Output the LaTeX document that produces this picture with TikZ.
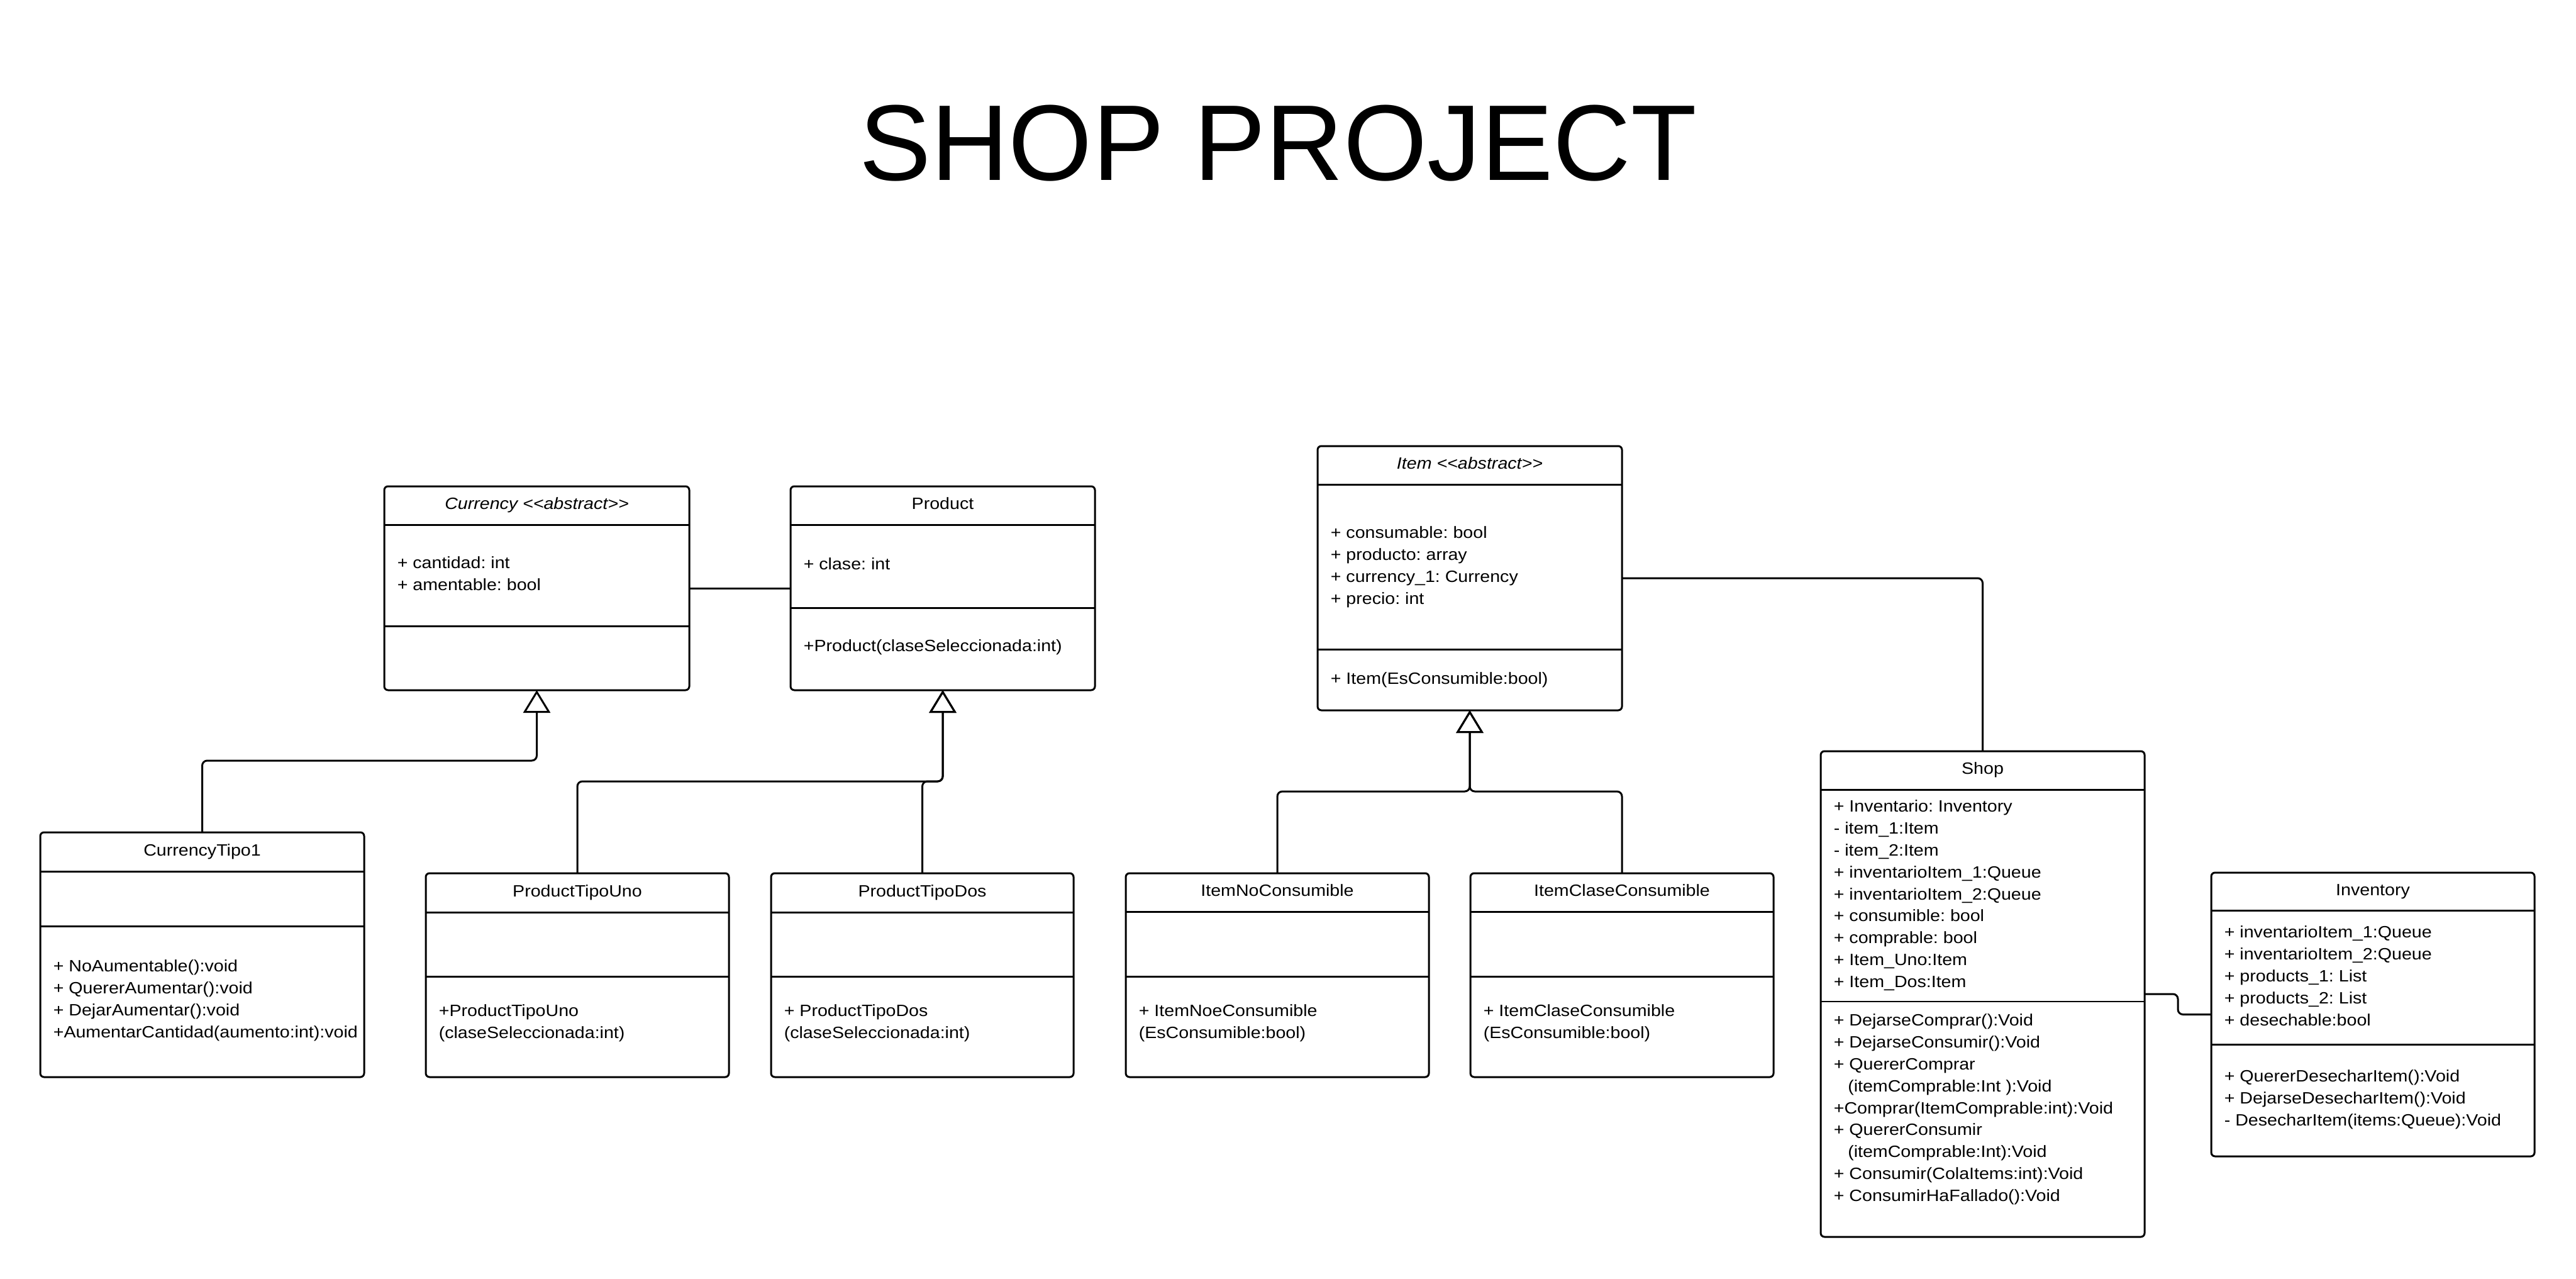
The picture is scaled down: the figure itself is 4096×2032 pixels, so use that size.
\documentclass[tikz,border=0pt]{standalone}
\usepackage{fontspec}
\setmainfont{Liberation Sans}
\newfontfamily\boxfont[FakeStretch=1.1]{Liberation Sans}
\usetikzlibrary{arrows.meta,fit,calc}
\frenchspacing
\newcommand\umlclass[7]{%
  \node[umlbox, fit={(#2,#3) (#4,#5)}] (#1) {};
  \draw[divline] (#2,#6) -- (#4,#6);
  \draw[divline] (#2,#7) -- (#4,#7);}
\newcommand\umlhead[6]{\node[headtxt] (#1) at ({(#2+#3)/2},{(#4+#5)/2+6}) {#6};}
\newcommand\umltext[4]{\node[comptxt] (#1) at ({#2+20},{#3-24.36}) {#4};}
\tikzset{
  umlbox/.style={draw, line width=0.75pt, rounded corners=1.5pt, inner sep=0pt, outer sep=0pt},
  divline/.style={line width=0.75pt},
  headtxt/.style={anchor=base, inner sep=0pt, font=\boxfont\fontsize{6.5pt}{8.7pt}\selectfont\frenchspacing},
  comptxt/.style={anchor=north west, inner sep=0pt, align=left, font=\boxfont\fontsize{6.5pt}{8.7pt}\selectfont\frenchspacing},
  conn/.style={line width=0.75pt, rounded corners=2pt},
  inh/.style={conn, -{Triangle[open, length=9pt, width=10.75pt]}},
}
\begin{document}
\begin{tikzpicture}[x=0.25pt,y=-0.25pt]
\path[use as bounding box, fill=white] (0,0) rectangle (4096,2032);

\node[anchor=base, inner sep=0pt, font=\fontsize{42.8pt}{50pt}\selectfont] (title) at (2032,287) {SHOP PROJECT};

% Currency
\umlclass{currency}{611}{773}{1096}{1097}{834}{995}
\umlhead{currencyh}{611}{1096}{773}{834}{\itshape Currency <\kern0pt<abstract>\kern0pt>}
\umltext{currencya}{611}{903}{\strut + cantidad: int\\\strut + amentable: bool}

% Product
\umlclass{product}{1257}{773}{1741}{1097}{834}{966}
\umlhead{producth}{1257}{1741}{773}{834}{Product}
\umltext{producta}{1257}{905}{\strut + clase: int}
\umltext{productm}{1257}{1035}{\strut +Product(claseSeleccionada:int)}

% Item
\umlclass{item}{2095}{709}{2579}{1129}{770}{1032}
\umlhead{itemh}{2095}{2579}{709}{770}{\itshape Item <\kern0pt<abstract>\kern0pt>}
\umltext{itema}{2095}{855}{\strut + consumable: bool\\\strut + producto: array\\\strut + currency\_1: Currency\\\strut + precio: int}
\umltext{itemm}{2095}{1087}{\strut + Item(EsConsumible:bool)}

% CurrencyTipo1
\umlclass{ctipo}{64}{1323}{579}{1712}{1385}{1472}
\umlhead{ctipoh}{64}{579}{1323}{1385}{CurrencyTipo1}
\umltext{ctipom}{64}{1544}{\strut + NoAumentable():void\\\strut + QuererAumentar():void\\\strut + DejarAumentar():void\\\strut +AumentarCantidad(aumento:int):void}

% ProductTipoUno
\umlclass{ptuno}{677}{1388}{1159}{1712}{1450}{1552}
\umlhead{ptunoh}{677}{1159}{1388}{1450}{ProductTipoUno}
\umltext{ptunom}{677}{1615}{\strut +ProductTipoUno\\\strut (claseSeleccionada:int)}

% ProductTipoDos
\umlclass{ptdos}{1226}{1388}{1707}{1712}{1450}{1552}
\umlhead{ptdosh}{1226}{1707}{1388}{1450}{ProductTipoDos}
\umltext{ptdosm}{1226}{1615}{\strut + ProductTipoDos\\\strut (claseSeleccionada:int)}

% ItemNoConsumible
\umlclass{inocons}{1790}{1388}{2272}{1712}{1449}{1552}
\umlhead{inoconsh}{1790}{2272}{1388}{1449}{ItemNoConsumible}
\umltext{inoconsm}{1790}{1615}{\strut + ItemNoeConsumible\\\strut (EsConsumible:bool)}

% ItemClaseConsumible
\umlclass{iclase}{2338}{1388}{2820}{1712}{1449}{1552}
\umlhead{iclaseh}{2338}{2820}{1388}{1449}{ItemClaseConsumible}
\umltext{iclasem}{2338}{1615}{\strut + ItemClaseConsumible\\\strut (EsConsumible:bool)}

% Shop
\node[umlbox, fit={(2895,1194) (3410,1966)}] (shop) {};
\draw[divline] (2895,1255) -- (3410,1255);
\draw[line width=0.55pt] (2895,1592) -- (3410,1592);
\umlhead{shoph}{2895}{3410}{1194}{1255}{Shop}
\umltext{shopa}{2895}{1290}{\strut + Inventario: Inventory\\\strut - item\_1:Item\\\strut - item\_2:Item\\\strut + inventarioItem\_1:Queue\\\strut + inventarioItem\_2:Queue\\\strut + consumible: bool\\\strut + comprable: bool\\\strut + Item\_Uno:Item\\\strut + Item\_Dos:Item}
\umltext{shopm}{2895}{1630}{\strut + DejarseComprar():Void\\\strut + DejarseConsumir():Void\\\strut + QuererComprar\\\strut\hspace*{5.6pt}(itemComprable:Int ):Void\\\strut +Comprar(ItemComprable:int):Void\\\strut + QuererConsumir\\\strut\hspace*{5.6pt}(itemComprable:Int):Void\\\strut + Consumir(ColaItems:int):Void\\\strut + ConsumirHaFallado():Void}

% Inventory
\umlclass{inventory}{3516}{1387}{4030}{1838}{1447}{1660}
\umlhead{inventoryh}{3516}{4030}{1387}{1447}{Inventory}
\umltext{inventorya}{3516}{1490}{\strut + inventarioItem\_1:Queue\\\strut + inventarioItem\_2:Queue\\\strut + products\_1: List\\\strut + products\_2: List\\\strut + desechable:bool}
\umltext{inventorym}{3516}{1719}{\strut + QuererDesecharItem():Void\\\strut + DejarseDesecharItem():Void\\\strut - DesecharItem(items:Queue):Void}

% Connectors
\draw[conn] (currency.east) -- (product.west);

\path (currency.south) ++(0,112) coordinate (cjoin);
\draw[inh] (ctipo.north) |- (cjoin) -- (currency.south);

\path (product.south) ++(0,145) coordinate (pjoin);
\draw[inh] (ptuno.north) |- (pjoin) -- (product.south);
\draw[inh] (ptdos.north) |- (pjoin) -- (product.south);

\path (item.south) ++(0,129) coordinate (ijoin);
\draw[inh] (inocons.north) |- (ijoin) -- (item.south);
\draw[inh] (iclase.north) |- (ijoin) -- (item.south);

\draw[conn] (item.east) -| (shop.north);

\coordinate (sjog) at ($(shop.east)!0.5!(inventory.west)$);
\draw[conn] (shop.east) -| (sjog) |- (inventory.west);
\end{tikzpicture}
\end{document}
